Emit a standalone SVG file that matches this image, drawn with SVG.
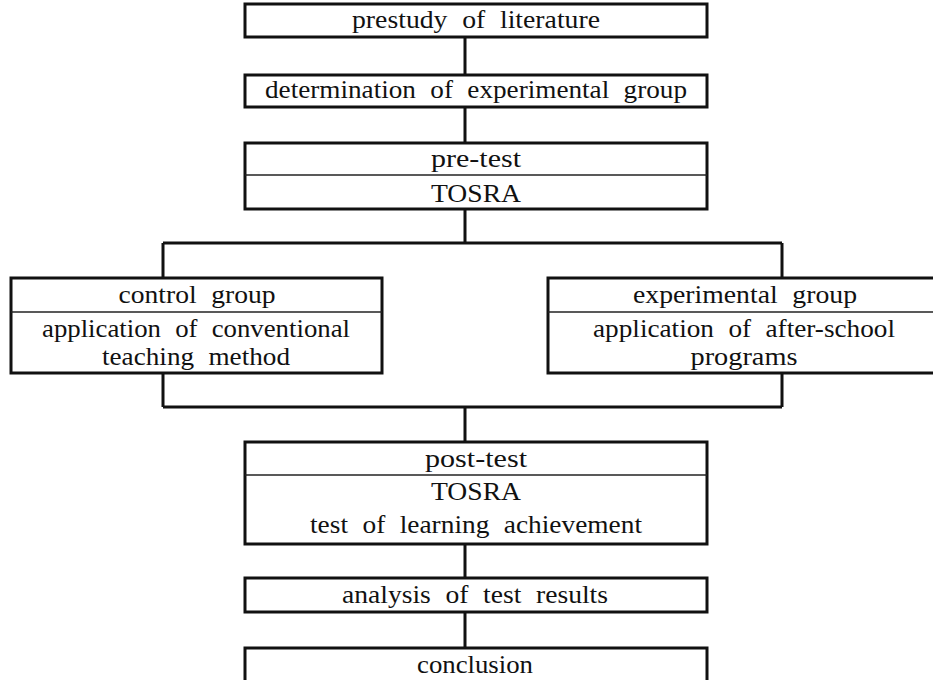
<svg xmlns="http://www.w3.org/2000/svg" width="933" height="680" viewBox="0 0 933 680">
<style>
.box{fill:#fff;stroke:#111;stroke-width:3}
.div{stroke:#222;stroke-width:1.5}
.con{fill:none;stroke:#111;stroke-width:3}
.t text{font-family:'Liberation Serif','Times New Roman',serif;font-size:25px;fill:#111;text-anchor:middle;word-spacing:7px}
</style>
<rect width="933" height="680" fill="#fff"/>
<g id="connectors">
<path class="con" d="M465 37V75M465 107V143M465 209V243M163 243H782M163 243V278M782 243V278M163 373V407M782 373V407M163 407H782M465 407V442M465 544V578M465 612V648"/>
</g>
<g class="t">
<g id="n1">
<rect class="box" x="245" y="4" width="462" height="33"/>
<text x="476" y="28" textLength="248" lengthAdjust="spacingAndGlyphs">prestudy of literature</text>
</g>
<g id="n2">
<rect class="box" x="245" y="75" width="462" height="32"/>
<text x="476" y="98" textLength="422" lengthAdjust="spacingAndGlyphs">determination of experimental group</text>
</g>
<g id="n3">
<rect class="box" x="245" y="143" width="462" height="66"/>
<line class="div" x1="245" y1="175" x2="707" y2="175"/>
<text x="476" y="167" textLength="90" lengthAdjust="spacingAndGlyphs">pre-test</text>
<text x="476" y="202" textLength="90" lengthAdjust="spacingAndGlyphs">TOSRA</text>
</g>
<g id="n4">
<rect class="box" x="11" y="278" width="371" height="95"/>
<line class="div" x1="11" y1="312" x2="382" y2="312"/>
<text x="197" y="303" textLength="157" lengthAdjust="spacingAndGlyphs">control group</text>
<text x="196" y="337" textLength="308" lengthAdjust="spacingAndGlyphs">application of conventional</text>
<text x="196" y="365" textLength="188" lengthAdjust="spacingAndGlyphs">teaching method</text>
</g>
<g id="n5">
<rect class="box" x="548" y="278" width="394" height="95"/>
<line class="div" x1="548" y1="312" x2="942" y2="312"/>
<text x="745" y="303" textLength="224" lengthAdjust="spacingAndGlyphs">experimental group</text>
<text x="744" y="337" textLength="302" lengthAdjust="spacingAndGlyphs">application of after-school</text>
<text x="744" y="365" textLength="107" lengthAdjust="spacingAndGlyphs">programs</text>
</g>
<g id="n6">
<rect class="box" x="245" y="442" width="462" height="102"/>
<line class="div" x1="245" y1="475" x2="707" y2="475"/>
<text x="476" y="467" textLength="102" lengthAdjust="spacingAndGlyphs">post-test</text>
<text x="476" y="500" textLength="90" lengthAdjust="spacingAndGlyphs">TOSRA</text>
<text x="476" y="533" textLength="332" lengthAdjust="spacingAndGlyphs">test of learning achievement</text>
</g>
<g id="n7">
<rect class="box" x="245" y="578" width="462" height="34"/>
<text x="475" y="603" textLength="266" lengthAdjust="spacingAndGlyphs">analysis of test results</text>
</g>
<g id="n8">
<rect class="box" x="245" y="648" width="462" height="40"/>
<text x="475" y="673" textLength="116" lengthAdjust="spacingAndGlyphs">conclusion</text>
</g>
</g>
</svg>
